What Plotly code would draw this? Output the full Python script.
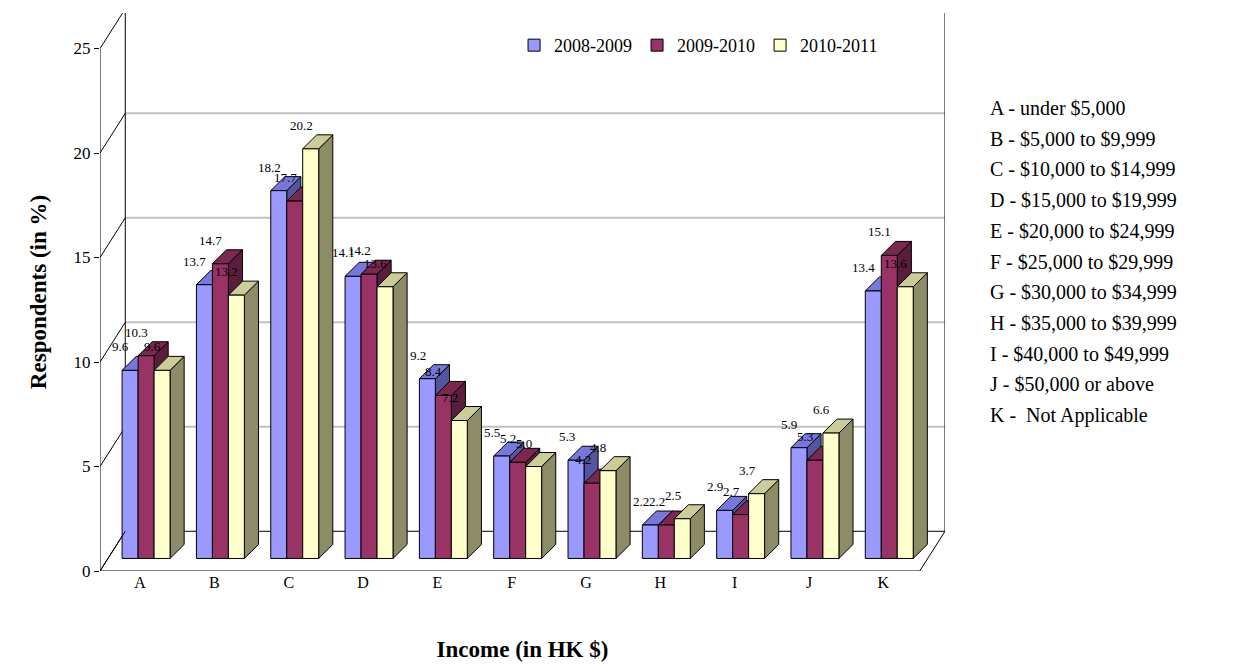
import plotly.graph_objects as go

categories = ["A", "B", "C", "D", "E", "F", "G", "H", "I", "J", "K"]
years = ["2008-2009", "2009-2010", "2010-2011"]
v0809 = [9.6, 13.7, 18.2, 14.1, 9.2, 5.5, 5.3, 2.2, 2.9, 5.9, 13.4]
v0910 = [10.3, 14.7, 17.7, 14.2, 8.4, 5.2, 4.2, 2.2, 2.7, 5.3, 15.1]
v1011 = [9.6, 13.2, 20.2, 13.6, 7.2, 5.0, 4.8, 2.5, 3.7, 6.6, 13.6]
income_key = [
    "A - under $5,000", "B - $5,000 to $9,999", "C - $10,000 to $14,999",
    "D - $15,000 to $19,999", "E - $20,000 to $24,999", "F - $25,000 to $29,999",
    "G - $30,000 to $34,999", "H - $35,000 to $39,999", "I - $40,000 to $49,999",
    "J - $50,000 or above", "K -  Not Applicable",
]

front = ["#9999FF", "#993366", "#FFFFCC"]
top = ["#7777DD", "#7A2850", "#CCCC99"]
side = ["#55559F", "#5A1E3C", "#8C8C66"]

font = "Liberation Serif, Times New Roman, serif"
w = 0.215          # bar width
dx, dy = 0.19, 0.67  # bar depth
base = 0.6
shift = 0.08
wx, wy = 0.34, 1.9  # wall depth
x0, x1 = -0.54, 10.83
T, B, L, R = 5, 101, 92, 314

fig = go.Figure()
shapes = []
annots = []

# floor and walls
shapes.append(dict(type="path", path=f"M {x0},0 L {x1-wx},0 L {x1},{wy} L {x0+wx},{wy} Z",
                   line=dict(color="black", width=1), layer="below"))
for v in range(5, 30, 5):
    shapes.append(dict(type="line", x0=x0 + wx, x1=x1, y0=v + wy, y1=v + wy,
                       line=dict(color="#C0C0C0", width=2), layer="below"))
    shapes.append(dict(type="line", x0=x0, x1=x0 + wx, y0=v, y1=v + wy,
                       line=dict(color="black", width=1), layer="below"))
shapes.append(dict(type="line", x0=x0 + wx, x1=x0 + wx, y0=wy, y1=27.0,
                   line=dict(color="black", width=1), layer="below"))
shapes.append(dict(type="line", x0=x1, x1=x1, y0=wy, y1=27.0, line=dict(color="black", width=1)))
shapes.append(dict(type="line", x0=x0, x1=x0, y0=0, y1=25, line=dict(color="black", width=1)))
shapes.append(dict(type="line", x0=x0, x1=x0 + wx, y0=0, y1=wy, line=dict(color="black", width=1)))
for i in range(len(categories) + 1):
    xt = i - 0.5
    shapes.append(dict(type="line", x0=xt, x1=xt, y0=0, y1=-0.35, line=dict(color="black", width=1)))

for k, vals in enumerate([v0809, v0910, v1011]):
    xs = [i + shift + (k - 1) * w for i in range(len(categories))]
    fig.add_trace(go.Bar(x=xs, y=[v - base for v in vals], base=base, width=w, name=years[k],
                         marker=dict(color=front[k], line=dict(color="black", width=1))))
    for xc, v in zip(xs, vals):
        a, b = xc - w / 2, xc + w / 2
        shapes.append(dict(type="path", layer="below",
                           path=f"M {b},{base} L {b+dx},{base+dy} L {b+dx},{v+dy} L {b},{v} Z",
                           fillcolor=side[k], line=dict(color="black", width=1)))
        shapes.append(dict(type="path", layer="below",
                           path=f"M {a},{v} L {a+dx},{v+dy} L {b+dx},{v+dy} L {b},{v} Z",
                           fillcolor=top[k], line=dict(color="black", width=1)))
        annots.append(dict(x=a - 0.02, y=v + dy, text=f"{v:.1f}", showarrow=False, xanchor="center",
                           yanchor="bottom", font=dict(family=font, size=13, color="black")))

ph = 664 - T - B
pw = 1251 - L - R
for j, line in enumerate(income_key):
    ypx = 100 + j * 30.7
    annots.append(dict(xref="paper", yref="paper", x=(980 - L) / pw, y=(664 - B - ypx) / ph,
                       xanchor="left", yanchor="middle", showarrow=False, text=line,
                       font=dict(family=font, size=20, color="black")))

fig.update_layout(
    width=1251, height=664,
    margin=dict(l=L, r=R, t=T, b=B),
    plot_bgcolor="white", paper_bgcolor="white",
    showlegend=True, barmode="overlay",
    legend=dict(orientation="h", x=0.49, y=0.975, xanchor="left", yanchor="top",
                font=dict(family=font, size=18, color="black")),
    xaxis=dict(range=[x0, x1], tickvals=list(range(len(categories))), ticktext=categories,
               showgrid=False, zeroline=False, showline=False, ticks="",
               tickfont=dict(family=font, size=16, color="black"),
               title=dict(text="<b>Income (in HK $)</b>", font=dict(family=font, size=23, color="black"),
                          standoff=50)),
    yaxis=dict(range=[0, 26.7], tickvals=[0, 5, 10, 15, 20, 25], showgrid=False, zeroline=False,
               ticks="outside", ticklen=5, tickcolor="black",
               tickfont=dict(family=font, size=17, color="black"),
               title=dict(text="<b>Respondents (in %)</b>", font=dict(family=font, size=23, color="black"),
                          standoff=20)),
    shapes=shapes, annotations=annots,
)

fig.write_html("out.html")
